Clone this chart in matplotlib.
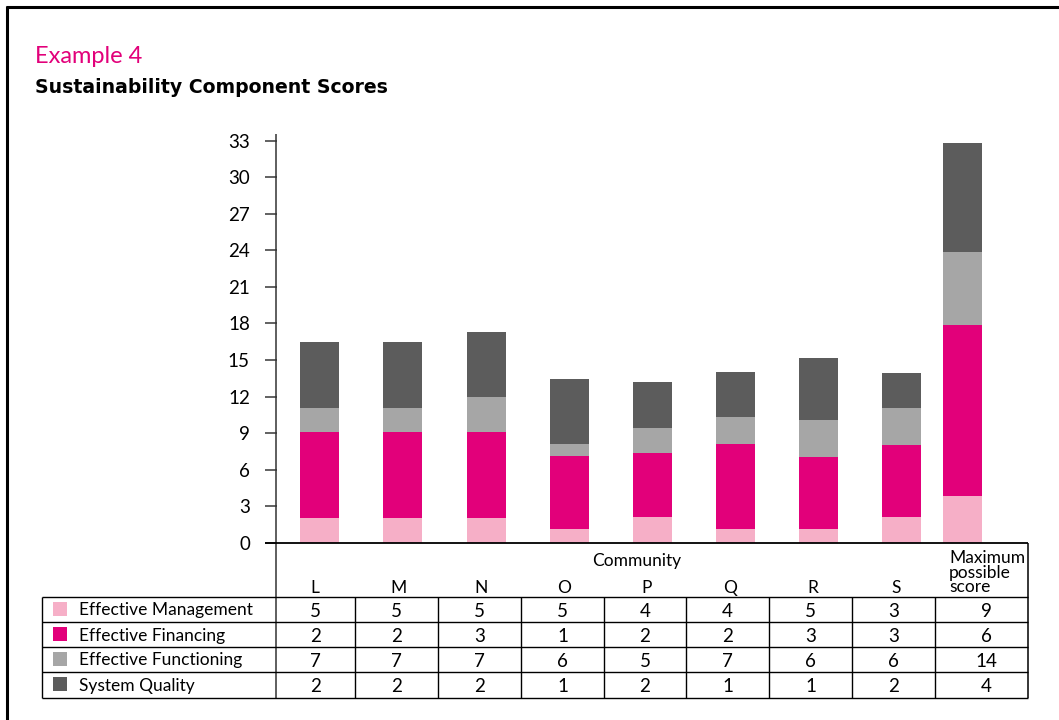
import matplotlib
matplotlib.use("Agg")
import matplotlib.pyplot as plt
import numpy as np
from matplotlib.patches import Rectangle

# ---------------- data ----------------
communities = ["L", "M", "N", "O", "P", "Q", "R", "S"]
max_label = "Maximum\npossible\nscore"
components = ["Effective Management", "Effective Financing",
              "Effective Functioning", "System Quality"]

# bar segments as drawn (bottom to top), communities L..S then maximum
seg_light = [2.0, 2.0, 2.0, 1.1, 2.15, 1.1, 1.1, 2.1, 3.85]
seg_magenta = [7.05, 7.05, 7.05, 6.0, 5.2, 7.0, 5.9, 5.9, 14.0]
seg_grey = [2.05, 2.05, 2.95, 1.0, 2.05, 2.2, 3.05, 3.05, 6.0]
seg_dark = [5.35, 5.35, 5.3, 5.3, 3.8, 3.7, 5.15, 2.85, 9.0]

# table values (rows = components, columns = L..S, max)
tbl_management = [5, 5, 5, 5, 4, 4, 5, 3, 9]
tbl_financing = [2, 2, 3, 1, 2, 2, 3, 3, 6]
tbl_functioning = [7, 7, 7, 6, 5, 7, 6, 6, 14]
tbl_quality = [2, 2, 2, 1, 2, 1, 1, 2, 4]

yticks = [0, 3, 6, 9, 12, 15, 18, 21, 24, 27, 30, 33]

# ---------------- style ----------------
C_LIGHT = "#F6AFC7"
C_MAG = "#E2007A"
C_GREY = "#A6A6A6"
C_DARK = "#5C5C5C"
colors = [C_LIGHT, C_MAG, C_GREY, C_DARK]
FONT = ["Lato", "DejaVu Sans"]
plt.rcParams["font.family"] = FONT

W, H = 1059, 720
fig = plt.figure(figsize=(W / 100, H / 100), dpi=100)

# pixel geometry
ax_left, ax_right = 277, 1028
y0_px, ytop_px = 542.7, 134
px_per_unit = 12.18
bar_step = 83.0
first_bar_px = 320.0
max_bar_px = 962.0

ax = fig.add_axes([ax_left / W, (H - y0_px) / H,
                   (ax_right - ax_left) / W, (y0_px - ytop_px) / H])
xl = (ax_left - first_bar_px) / bar_step
xr = (ax_right - first_bar_px) / bar_step
ax.set_xlim(xl, xr)
ax.set_ylim(0, (y0_px - ytop_px) / px_per_unit)

xpos = list(np.arange(len(communities), dtype=float)) + [(max_bar_px - first_bar_px) / bar_step]
width = 39 / bar_step
bottom = np.zeros(len(xpos))
for seg, c in zip([seg_light, seg_magenta, seg_grey, seg_dark], colors):
    ax.bar(xpos, seg, width=width, bottom=bottom, color=c, linewidth=0, zorder=2)
    bottom += np.array(seg)

for s in ["top", "right", "bottom", "left"]:
    ax.spines[s].set_visible(False)
ax.set_xticks([])
ax.set_yticks(yticks)
ax.set_yticklabels([str(t) for t in yticks], fontsize=13.5)
ax.tick_params(axis="y", length=8.5, width=1.3, color="#555555", pad=11)
ax.patch.set_alpha(0)

# ---------------- overlay in pixel coordinates ----------------
ov = fig.add_axes([0, 0, 1, 1], zorder=5)
ov.set_xlim(0, W)
ov.set_ylim(H, 0)
ov.axis("off")
ov.patch.set_alpha(0)

def hline(y, x1, x2, lw=1.0, c="black"):
    ov.plot([x1, x2], [y, y], color=c, lw=lw, solid_capstyle="butt")

def vline(x, y1, y2, lw=1.0, c="black"):
    ov.plot([x, x], [y1, y2], color=c, lw=lw, solid_capstyle="butt")

# outer frame (left and top)
vline(7, 6, 720, lw=2.2)
hline(6.5, 6, 1059, lw=2.2)

# titles
ov.text(35, 63, "Example 4", color=C_MAG, fontsize=17, ha="left", va="baseline")
ov.text(35, 93, "Sustainability Component Scores", color="black", fontsize=13.6,
        fontweight="bold", family=["DejaVu Sans"], ha="left", va="baseline")

# axis line (continues through table)
vline(ax_left - 1, ytop_px, 698, lw=1.1, c="#333333")
# zero line
hline(y0_px, 265, ax_right, lw=1.3)
# right border of header + table
vline(ax_right, y0_px, 698, lw=1.1)

# table geometry
tbl_left = 42
row_tops = [597, 622, 647, 672, 698]
col_edges = [ax_left - 1, 355, 438, 521, 604, 686, 769, 852, 935, ax_right]

for y in row_tops:
    hline(y, tbl_left, ax_right, lw=1.0)
vline(tbl_left, row_tops[0], row_tops[-1], lw=1.0)
for x in col_edges[1:-1]:
    vline(x, row_tops[0], row_tops[-1], lw=1.0)

# header
ov.text(637, 566, "Community", fontsize=12.5, ha="center", va="baseline")
for i, name in enumerate(communities):
    ov.text(first_bar_px + bar_step * i - 5, 593, name, fontsize=12.5,
            ha="center", va="baseline")
ov.text(949, 592, max_label, fontsize=12.5, ha="left", va="baseline",
        linespacing=0.88)

# rows
rows = [tbl_management, tbl_financing, tbl_functioning, tbl_quality]
for r, (label, vals, c) in enumerate(zip(components, rows, colors)):
    ytop = row_tops[r]
    ymid = (row_tops[r] + row_tops[r + 1]) / 2
    ov.add_patch(Rectangle((53, ytop + 5), 13.5, 13.5, color=c, lw=0))
    ov.text(79, ymid + 6, label, fontsize=12.5, ha="left", va="baseline")
    for j, v in enumerate(vals):
        xc = (col_edges[j] + col_edges[j + 1]) / 2
        if j == len(vals) - 1:
            xc += 5
        ov.text(xc, ymid + 7.5, str(v), fontsize=13.5, ha="center", va="baseline")

fig.savefig("out.png", dpi=100)
